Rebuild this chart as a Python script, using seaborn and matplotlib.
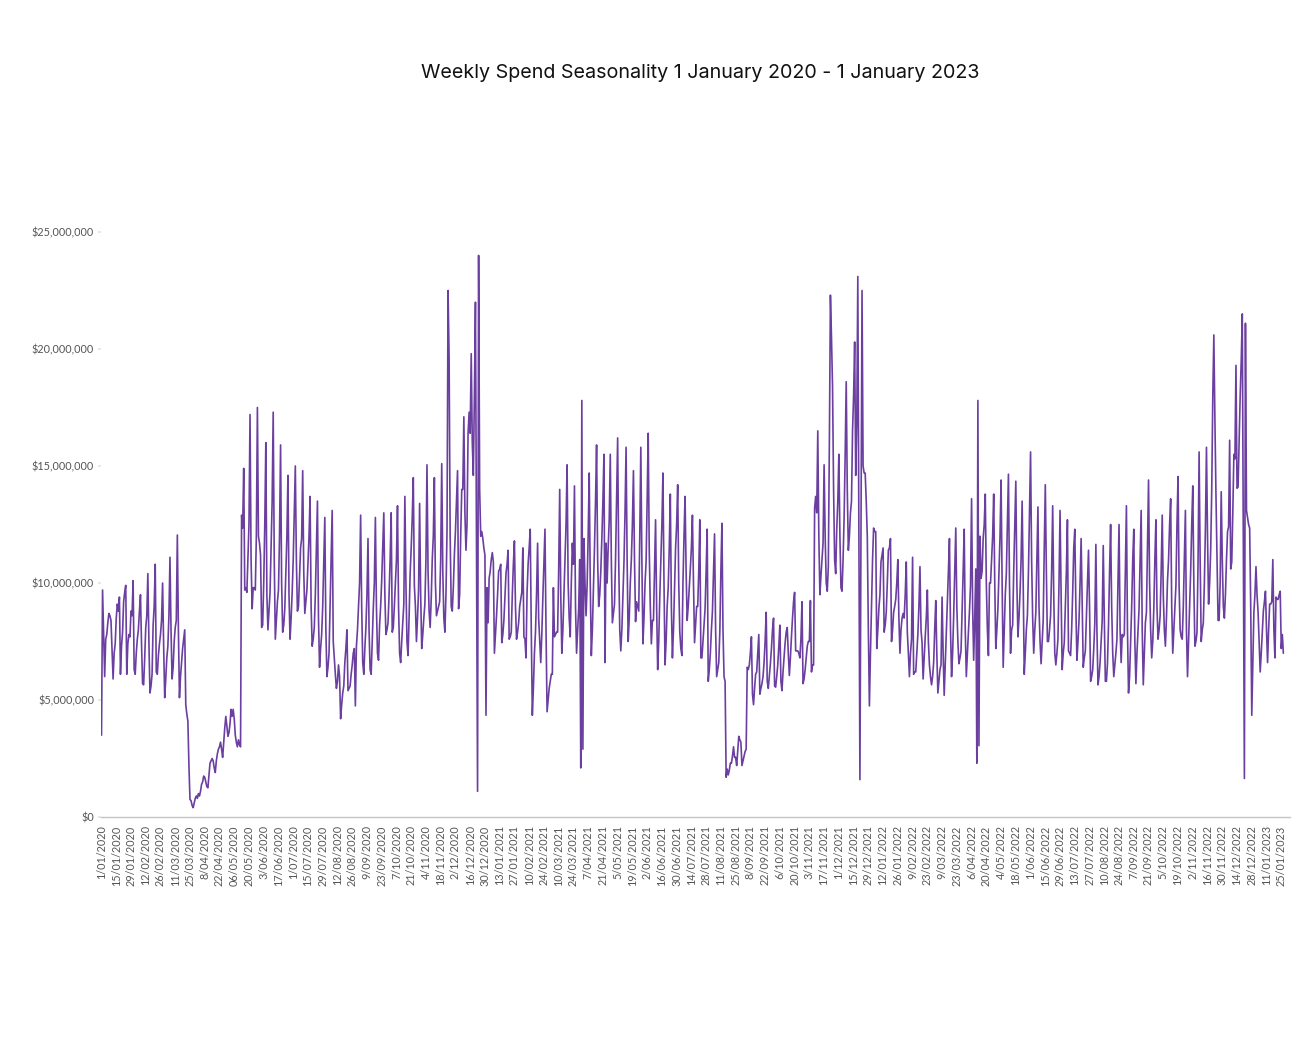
import matplotlib
matplotlib.use("Agg")
import matplotlib.pyplot as plt
from matplotlib.ticker import FuncFormatter
import seaborn as sns
import numpy as np
import pandas as pd

# daily spend in $M, one row per week (weeks start Wed 1 Jan 2020)
weeks_2020 = [
    [3.5, 9.7, 7.8, 6.0, 7.6, 7.8, 8.3],
    [8.7, 8.6, 8.4, 7.2, 5.9, 7.0, 7.4],
    [8.5, 9.1, 8.8, 9.4, 6.1, 7.3, 7.9],
    [9.2, 9.6, 9.9, 6.1, 7.4, 7.8, 7.7],
    [8.8, 8.6, 10.1, 6.3, 6.1, 7.0, 7.6],
    [8.0, 8.8, 9.5, 7.4, 5.7, 5.65, 6.8],
    [8.1, 8.6, 10.4, 7.5, 5.3, 5.6, 6.1],
    [8.2, 9.0, 10.8, 6.2, 6.1, 6.9, 7.4],
    [7.8, 8.4, 10.0, 7.3, 5.1, 5.9, 6.8],
    [7.3, 8.6, 11.1, 8.0, 5.9, 6.4, 7.5],
    [8.1, 8.4, 12.05, 8.0, 5.1, 6.0, 6.6],
    [7.2, 7.6, 8.0, 4.8, 4.4, 4.1, 2.2],
    [0.75, 0.7, 0.5, 0.4, 0.6, 0.8, 0.9],
    [0.8, 1.0, 0.9, 1.1, 1.4, 1.5, 1.75],
    [1.7, 1.5, 1.3, 1.25, 1.8, 2.3, 2.4],
    [2.5, 2.4, 2.1, 1.9, 2.4, 2.7, 2.9],
    [3.0, 3.2, 2.9, 2.55, 3.2, 3.8, 4.3],
    [3.9, 3.45, 3.6, 4.0, 4.6, 4.3, 4.6],
    [4.2, 3.5, 3.2, 3.0, 3.3, 3.1, 3.0],
    [12.9, 12.35, 14.9, 9.7, 9.8, 9.6, 11.0],
    [12.5, 17.2, 11.0, 8.9, 9.8, 9.8, 9.7],
    [12.0, 17.5, 12.0, 11.7, 11.2, 8.1, 8.2],
    [10.0, 12.5, 16.0, 9.5, 8.0, 8.8, 9.6],
    [11.5, 13.5, 17.3, 11.0, 7.6, 8.4, 9.2],
    [9.7, 12.0, 15.9, 10.0, 7.9, 8.2, 8.9],
    [10.5, 12.0, 14.6, 9.5, 7.6, 8.5, 9.6],
    [11.0, 13.0, 15.0, 11.0, 8.8, 9.0, 10.2],
    [11.5, 11.9, 14.8, 10.5, 8.7, 9.2, 9.7],
    [10.8, 12.0, 13.7, 9.0, 7.3, 7.6, 8.1],
    [9.5, 11.5, 13.5, 8.5, 6.4, 7.2, 7.8],
    [9.0, 11.0, 12.8, 8.0, 6.0, 6.4, 7.0],
    [9.0, 11.0, 13.1, 7.5, 6.8, 6.1, 5.5],
    [5.8, 6.5, 6.0, 4.2, 4.8, 5.3, 5.6],
    [6.6, 7.2, 8.0, 5.4, 5.5, 5.6, 6.1],
    [6.5, 7.0, 7.2, 4.75, 7.3, 8.0, 9.0],
    [10.0, 12.9, 9.0, 6.6, 6.1, 7.2, 8.1],
    [9.5, 11.9, 8.0, 6.3, 6.1, 7.5, 8.9],
    [10.0, 12.8, 9.0, 7.0, 6.7, 8.2, 9.0],
    [10.1, 11.5, 13.0, 9.5, 7.8, 8.0, 8.3],
    [9.5, 11.0, 13.0, 7.9, 8.1, 9.0, 10.0],
    [11.0, 13.3, 9.0, 7.0, 6.6, 7.5, 8.3],
    [9.1, 13.7, 10.0, 7.5, 6.9, 8.5, 10.4],
    [11.5, 12.8, 14.5, 9.9, 9.0, 7.5, 8.5],
    [9.7, 13.4, 9.5, 7.2, 7.8, 8.5, 9.1],
    [11.0, 15.05, 10.5, 8.8, 8.1, 9.3, 11.0],
    [12.0, 14.5, 10.0, 8.6, 8.8, 9.0, 9.2],
    [11.0, 15.1, 10.5, 8.5, 7.9, 9.5, 12.2],
    [22.5, 19.6, 12.0, 9.0, 8.8, 9.8, 11.2],
    [12.2, 13.5, 14.8, 8.9, 9.5, 12.0, 14.0],
    [14.0, 17.1, 13.0, 11.4, 12.5, 16.4, 17.3],
    [16.4, 19.8, 16.0, 14.6, 18.0, 22.0, 12.0],
    [1.1, 24.0, 14.0, 12.0, 12.2, 11.9, 11.5],
    [11.2, 4.35, 9.8, 8.3, 10.2, 10.5, 11.0],
]

weeks_2021 = [
    [11.3, 10.9, 7.0, 7.8, 8.6, 9.5, 10.5],
    [10.6, 10.8, 7.45, 7.8, 8.4, 9.4, 10.4],
    [10.8, 11.4, 7.6, 7.7, 7.9, 9.5, 10.8],
    [11.8, 9.0, 7.6, 7.9, 8.3, 9.0, 9.3],
    [9.6, 11.5, 7.7, 7.6, 6.8, 9.6, 10.8],
    [11.5, 12.3, 8.0, 4.35, 5.5, 7.0, 7.9],
    [9.5, 11.7, 8.5, 7.5, 6.6, 7.8, 9.4],
    [10.8, 12.3, 8.0, 4.5, 5.0, 5.5, 5.8],
    [6.1, 6.1, 9.8, 7.7, 7.8, 7.9, 7.9],
    [10.5, 14.0, 9.5, 7.0, 8.0, 9.5, 11.1],
    [12.5, 15.05, 10.0, 8.5, 7.7, 10.0, 11.7],
    [10.8, 14.15, 9.0, 7.0, 8.0, 8.9, 11.0],
    [2.1, 17.8, 2.9, 11.9, 10.0, 8.6, 9.9],
    [12.0, 14.7, 10.0, 6.9, 8.0, 9.7, 11.5],
    [13.5, 15.9, 11.0, 9.0, 9.5, 10.5, 11.9],
    [13.5, 15.5, 6.6, 11.7, 10.0, 11.5, 12.7],
    [15.5, 11.0, 8.3, 8.7, 9.1, 11.0, 13.5],
    [16.2, 11.0, 8.0, 7.1, 8.0, 9.5, 10.9],
    [13.0, 15.8, 11.0, 7.5, 8.5, 10.0, 11.0],
    [12.5, 14.8, 11.0, 8.35, 9.2, 9.0, 8.8],
    [12.0, 15.8, 11.0, 7.4, 8.5, 10.0, 10.9],
    [13.5, 16.4, 11.4, 9.0, 7.4, 8.4, 8.4],
    [10.5, 12.7, 9.0, 6.3, 7.5, 9.4, 11.0],
    [12.5, 14.7, 10.0, 6.5, 7.5, 9.0, 9.8],
    [11.5, 13.8, 9.0, 6.8, 8.0, 9.7, 11.5],
    [12.5, 14.2, 10.0, 7.9, 7.2, 6.9, 10.0],
    [12.0, 13.7, 10.5, 8.4, 9.0, 9.8, 10.6],
    [11.5, 12.9, 10.0, 7.45, 8.2, 9.0, 9.0],
    [10.5, 12.7, 6.8, 6.8, 7.5, 8.2, 8.9],
    [10.5, 12.3, 5.8, 6.3, 7.0, 8.0, 8.8],
    [10.5, 12.1, 8.0, 6.0, 6.3, 6.6, 7.9],
    [10.5, 12.55, 8.0, 6.0, 5.8, 1.7, 2.05],
    [1.8, 2.0, 2.3, 2.3, 2.6, 3.0, 2.55],
    [2.55, 2.2, 2.8, 3.45, 3.3, 3.2, 2.2],
    [2.4, 2.6, 2.8, 2.9, 6.4, 6.3, 6.5],
    [7.0, 7.7, 5.25, 4.8, 5.5, 6.1, 6.2],
    [7.0, 7.8, 5.25, 5.5, 5.7, 6.0, 6.6],
    [7.5, 8.75, 5.8, 5.5, 6.0, 6.55, 7.2],
    [8.0, 8.5, 5.6, 5.55, 6.0, 6.5, 7.3],
    [8.2, 5.8, 5.4, 6.2, 6.8, 7.45, 7.9],
    [8.1, 7.0, 6.05, 6.8, 7.7, 8.5, 9.2],
    [9.6, 7.1, 7.1, 7.1, 7.0, 6.8, 7.6],
    [9.2, 5.7, 5.9, 6.3, 6.8, 7.3, 7.5],
    [7.5, 9.25, 6.2, 6.5, 6.5, 13.2, 13.7],
    [13.0, 16.5, 12.0, 9.5, 10.3, 11.0, 11.7],
    [15.05, 12.0, 10.0, 9.65, 10.7, 16.0, 22.3],
    [20.5, 18.4, 14.0, 11.0, 10.4, 12.3, 13.5],
    [15.5, 12.0, 9.8, 9.65, 11.0, 12.8, 15.5],
    [18.6, 14.0, 11.4, 12.0, 13.0, 13.5, 16.5],
    [18.0, 20.3, 14.6, 16.8, 23.1, 12.5, 1.6],
    [12.0, 22.5, 15.0, 14.7, 14.7, 13.5, 12.0],
    [8.0, 4.75, 7.0, 8.9, 11.0, 12.35, 12.2],
]

weeks_2022 = [
    [12.2, 7.2, 8.0, 8.9, 9.5, 10.9, 11.2],
    [11.5, 7.9, 8.2, 8.75, 10.0, 11.4, 11.5],
    [11.9, 7.5, 8.0, 8.75, 9.0, 9.3, 10.0],
    [11.0, 8.5, 7.0, 8.0, 8.5, 8.7, 8.5],
    [9.5, 10.9, 7.9, 7.0, 6.0, 7.0, 7.6],
    [11.1, 6.1, 6.2, 6.2, 7.0, 7.8, 9.0],
    [10.7, 8.0, 7.45, 5.9, 6.8, 7.7, 8.5],
    [9.7, 7.5, 6.5, 6.0, 5.65, 6.0, 6.6],
    [8.0, 9.25, 7.0, 5.3, 5.8, 6.3, 6.5],
    [9.4, 7.0, 5.2, 6.5, 7.7, 9.0, 10.5],
    [11.9, 8.0, 6.0, 7.0, 8.6, 10.5, 12.35],
    [9.0, 7.5, 6.55, 6.8, 7.1, 8.75, 10.5],
    [12.3, 8.0, 6.0, 7.0, 7.9, 8.8, 9.9],
    [13.6, 9.0, 6.7, 8.5, 10.6, 2.3, 17.8],
    [3.05, 12.0, 10.2, 10.5, 11.9, 12.5, 13.8],
    [10.0, 8.0, 6.9, 10.0, 10.0, 11.0, 12.0],
    [13.8, 10.0, 7.2, 8.0, 8.9, 10.5, 12.0],
    [14.4, 10.0, 6.4, 8.0, 9.5, 10.4, 12.5],
    [14.65, 10.0, 7.0, 8.0, 8.2, 10.5, 12.5],
    [14.35, 10.0, 7.7, 8.5, 9.6, 11.0, 13.5],
    [10.0, 6.1, 7.0, 8.0, 8.6, 10.5, 13.0],
    [15.6, 11.0, 8.5, 7.0, 8.0, 8.75, 11.0],
    [13.25, 9.0, 7.5, 6.55, 7.5, 8.4, 11.5],
    [14.2, 10.5, 7.5, 7.5, 8.0, 8.6, 10.5],
    [13.3, 9.5, 7.0, 6.5, 7.0, 7.6, 10.0],
    [13.1, 9.5, 6.3, 7.0, 7.45, 8.9, 10.5],
    [12.7, 7.1, 7.0, 6.9, 8.0, 9.6, 11.5],
    [12.3, 9.0, 6.7, 7.5, 8.4, 10.0, 11.9],
    [9.0, 6.4, 6.8, 7.1, 8.5, 10.0, 11.4],
    [9.0, 5.8, 6.0, 6.3, 7.2, 8.3, 11.65],
    [8.0, 5.65, 6.0, 6.6, 7.5, 8.4, 11.6],
    [8.5, 5.8, 5.8, 6.55, 8.2, 10.5, 12.5],
    [9.0, 7.0, 6.0, 6.5, 7.0, 7.6, 10.0],
    [12.5, 8.0, 6.6, 7.8, 7.7, 7.8, 10.5],
    [13.3, 8.0, 5.3, 6.0, 7.45, 9.0, 11.0],
    [12.3, 7.5, 5.7, 7.0, 8.0, 8.9, 11.0],
    [13.1, 8.0, 5.65, 7.0, 8.3, 8.75, 11.5],
    [14.4, 10.0, 8.0, 6.8, 7.5, 8.9, 11.0],
    [12.7, 9.0, 7.6, 8.0, 8.6, 10.5, 12.9],
    [9.5, 8.0, 7.3, 8.5, 10.1, 11.0, 12.5],
    [13.6, 9.0, 7.0, 8.0, 9.0, 9.9, 12.5],
    [14.55, 9.9, 8.0, 7.7, 7.6, 9.0, 11.0],
    [13.1, 8.0, 6.0, 7.5, 8.9, 10.5, 12.5],
    [14.15, 10.0, 7.3, 7.5, 7.9, 10.9, 15.6],
    [11.0, 7.5, 8.0, 8.3, 10.0, 12.35, 15.8],
    [12.0, 9.1, 10.0, 11.4, 14.0, 18.0, 20.6],
    [17.0, 13.8, 11.0, 8.4, 8.4, 10.0, 13.9],
    [11.0, 9.0, 8.5, 9.5, 11.0, 12.2, 12.4],
    [16.1, 10.6, 10.9, 13.0, 15.5, 15.3, 19.3],
    [14.05, 14.1, 16.0, 18.0, 19.5, 21.5, 12.0],
    [1.65, 21.1, 13.1, 12.8, 12.5, 12.35, 9.0],
    [4.35, 6.5, 8.75, 9.5, 10.7, 9.5, 8.75],
]

weeks_2023 = [
    [7.5, 6.2, 7.0, 7.9, 8.8, 9.2, 9.65],
    [8.0, 6.6, 8.0, 9.1, 9.1, 9.2, 11.0],
    [8.0, 6.8, 9.4, 9.3, 9.3, 9.5, 9.65],
    [7.2, 7.8, 7.0],
]

tick_labels = [
    "1/01/2020", "15/01/2020", "29/01/2020", "12/02/2020", "26/02/2020", "11/03/2020",
    "25/03/2020", "8/04/2020", "22/04/2020", "06/05/2020", "20/05/2020", "3/06/2020",
    "17/06/2020", "1/07/2020", "15/07/2020", "29/07/2020", "12/08/2020", "26/08/2020",
    "9/09/2020", "23/09/2020", "7/10/2020", "21/10/2020", "4/11/2020", "18/11/2020",
    "2/12/2020", "16/12/2020", "30/12/2020",
    "13/01/2021", "27/01/2021", "10/02/2021", "24/02/2021", "10/03/2021", "24/03/2021",
    "7/04/2021", "21/04/2021", "5/05/2021", "19/05/2021", "2/06/2021", "16/06/2021",
    "30/06/2021", "14/07/2021", "28/07/2021", "11/08/2021", "25/08/2021", "8/09/2021",
    "22/09/2021", "6/10/2021", "20/10/2021", "3/11/2021", "17/11/2021", "1/12/2021",
    "15/12/2021", "29/12/2021",
    "12/01/2022", "26/01/2022", "9/02/2022", "23/02/2022", "9/03/2022", "23/03/2022",
    "6/04/2022", "20/04/2022", "4/05/2022", "18/05/2022", "1/06/2022", "15/06/2022",
    "29/06/2022", "13/07/2022", "27/07/2022", "10/08/2022", "24/08/2022", "7/09/2022",
    "21/09/2022", "5/10/2022", "19/10/2022", "2/11/2022", "16/11/2022", "30/11/2022",
    "14/12/2022", "28/12/2022",
    "11/01/2023", "25/01/2023",
]

spend_m = [v for block in (weeks_2020, weeks_2021, weeks_2022, weeks_2023)
           for week in block for v in week]
df = pd.DataFrame({"day": np.arange(len(spend_m)), "spend": np.array(spend_m) * 1e6})

sns.set_theme(style="white")
plt.rcParams["font.family"] = ["Lato", "DejaVu Sans"]

fig = plt.figure(figsize=(13.08, 10.46), dpi=100)
ax = fig.add_axes([0.0772, 0.2189, 0.9088, 0.5593])

sns.lineplot(data=df, x="day", y="spend", ax=ax, color="#6b3fa0", linewidth=1.2)

ax.set_xlim(-0.5, 1128)
ax.set_ylim(0, 25e6)
ax.set_yticks(np.arange(0, 25e6 + 1, 5e6))
ax.yaxis.set_major_formatter(FuncFormatter(lambda v, p: f"${v:,.0f}"))
ax.set_xticks(np.arange(len(tick_labels)) * 14)
ax.set_xticklabels(tick_labels, rotation=90)
ax.set_xlabel("")
ax.set_ylabel("")

for side in ("top", "right", "left"):
    ax.spines[side].set_visible(False)
ax.spines["bottom"].set_color("#c4c4c4")
ax.spines["bottom"].set_linewidth(1.0)

ax.tick_params(axis="y", labelsize=7.8, labelcolor="#555555", length=2,
               color="#e4e4e4", pad=3, left=True)
ax.tick_params(axis="x", labelsize=7.8, labelcolor="#555555", length=0, pad=6)

fig.text(0.535, 0.930, "Weekly Spend Seasonality 1 January 2020 - 1 January 2023",
         ha="center", va="center", fontsize=14.2, color="#111111",
         family=["Inter", "DejaVu Sans"])

fig.savefig("out.png", dpi=100, facecolor="white")
